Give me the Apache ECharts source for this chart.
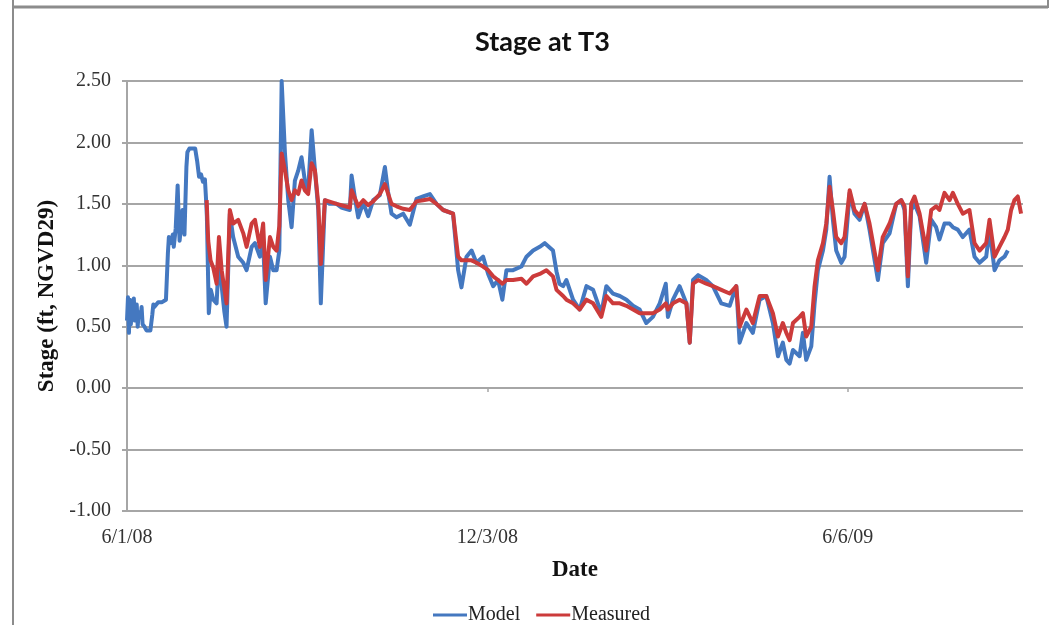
<!DOCTYPE html>
<html>
<head>
<meta charset="utf-8">
<script src="https://cdn.jsdelivr.net/npm/echarts@6/dist/echarts.min.js"></script>
<style>
html,body{margin:0;padding:0;background:#fff;}
#chart{width:1051px;height:625px;}
</style>
</head>
<body>
<div id="chart"></div>
<script>
// x values are days since 6/1/08
const START_DATE = Date.UTC(2008, 5, 1);
const xTickDays = [0, 185, 370];
const yTicks = [-1.0, -0.5, 0, 0.5, 1.0, 1.5, 2.0, 2.5];

const modelDays = [0,0.5,1,1.5,2,2.5,3,3.5,4,5,5.5,6,7,7.5,8,9,10,11,12,13,13.5,14,16,18,20,21,21.5,22.5,23.5,24,25,26,26.5,27,28,28.5,29.5,30.5,31,32,35,36,37,38,39,40,40.5,41,42,43,44.3,46,47.2,48.6,50,51.1,52.8,54.5,57.1,59.7,61.4,64,65.7,68.2,69.9,71.2,73.4,75.1,76.8,78.2,79.4,81.1,82.8,84.5,86.2,87.9,89.6,91.3,93,94.8,96.5,98.2,99.5,101.6,104,107.6,110,114.4,115.3,117,118.7,121.3,123.8,126.4,129.8,132.4,134,135.8,138.4,141.8,145.2,148.6,152,155.5,158.9,162.3,167.4,170,171.7,174.3,176.9,179.4,182.8,185.4,188,190.5,192.7,194.8,198.2,202.5,205.1,208.5,211.9,214.5,218.7,220.5,222,223.9,225.6,229,232.4,235.9,239.3,243.5,246.1,249.5,253,256.4,259.8,263.2,266.6,270,273.5,276.6,277.7,280.3,283.7,287.2,288.9,290.6,293.2,297.4,300.8,305.1,309.4,312.8,314.5,318,321.3,324.8,328.2,331.6,334.2,336.7,338.5,340.2,341.9,345.3,347,348.7,351.3,353,354.7,357.3,359,360.7,362.4,364.1,366.7,368.4,371,373.5,376.1,378.7,381.2,385.5,388,391.5,394.9,397.5,399.2,400.9,402.6,404.3,406.9,410.3,412.9,415.4,417.1,419.7,422.3,424,426.5,429.1,432.5,435.1,437.7,441.1,442.8,445.4,447.9,450.5,452.2];
const modelValues = [0.55,0.74,0.45,0.72,0.52,0.70,0.58,0.73,0.55,0.68,0.50,0.62,0.58,0.66,0.52,0.50,0.47,0.46,0.47,0.60,0.68,0.66,0.70,0.70,0.72,1.10,1.23,1.18,1.25,1.15,1.30,1.65,1.40,1.20,1.35,1.45,1.25,1.80,1.92,1.95,1.95,1.85,1.72,1.74,1.68,1.70,1.56,1.40,0.61,0.80,0.72,0.69,1.07,0.83,0.62,0.50,1.42,1.23,1.07,1.02,0.96,1.15,1.18,1.07,1.18,0.69,1.07,0.96,0.96,1.12,2.50,1.91,1.53,1.31,1.69,1.77,1.88,1.69,1.61,2.10,1.77,1.45,0.69,1.53,1.50,1.50,1.47,1.45,1.73,1.55,1.39,1.51,1.40,1.53,1.57,1.80,1.60,1.42,1.39,1.42,1.33,1.54,1.56,1.58,1.50,1.45,1.42,0.96,0.82,1.07,1.12,1.02,1.07,0.93,0.83,0.88,0.72,0.96,0.96,0.99,1.07,1.12,1.15,1.18,1.12,0.95,0.85,0.83,0.88,0.72,0.64,0.83,0.80,0.61,0.83,0.77,0.75,0.72,0.67,0.64,0.53,0.58,0.69,0.85,0.58,0.72,0.83,0.69,0.37,0.88,0.92,0.88,0.83,0.69,0.67,0.83,0.37,0.53,0.45,0.72,0.75,0.53,0.26,0.37,0.23,0.20,0.31,0.26,0.45,0.23,0.34,0.69,0.96,1.12,1.29,1.72,1.37,1.12,1.02,1.07,1.59,1.42,1.37,1.50,1.29,0.88,1.18,1.26,1.50,1.53,1.45,0.83,1.45,1.50,1.40,1.02,1.37,1.31,1.21,1.34,1.34,1.31,1.29,1.23,1.29,1.07,1.02,1.07,1.29,0.96,1.04,1.07,1.12];

const measuredDays = [40.9,41.7,42.9,44.3,46,47.2,48.6,51.1,52.8,54.5,57.1,59.7,61.4,64,65.7,68.2,69.9,71.2,73.4,75.1,76.8,78.2,79.4,81.1,82.8,84.5,86.2,87.9,89.6,91.3,93,94.8,96.5,98.2,99.5,101.6,107.6,114.4,115.3,118.7,121.3,123.8,126.4,129.8,132.4,135.8,138.4,141.8,145.2,148.6,152,155.5,158.9,162.3,167.4,170,171.7,174.3,176.9,179.4,182.8,185.4,188,190.5,192.7,194.8,198.2,202.5,205.1,208.5,211.9,215.3,218.7,220.5,223.9,225.6,229,232.4,235.9,239.3,243.5,246.1,249.5,253,256.4,259.8,263.2,266.6,270,273.5,276.6,277.7,280.3,283.7,287.2,288.9,290.6,293.2,297.4,300.8,305.1,309.4,312.8,314.5,318,321.3,324.8,328.2,331.6,334.2,336.7,338.5,340.2,341.9,345.3,347,348.7,351.3,353,354.7,357.3,359,360.7,362.4,364.1,366.7,368.4,371,373.5,376.1,378.7,381.2,385.5,388,391.5,394.9,397.5,399.2,400.9,402.6,404.3,406.9,410.3,412.9,415.4,417.1,419.7,422.3,424,426.5,429.1,432.5,435.1,437.7,441.1,442.8,445.4,447.9,450.5,452.2,453.9,455.6,457.3,459];
const measuredValues = [1.53,1.20,1.04,0.98,0.85,1.23,0.96,0.69,1.45,1.34,1.37,1.26,1.15,1.34,1.37,1.15,1.34,0.88,1.23,1.15,1.12,1.32,1.91,1.77,1.61,1.53,1.61,1.58,1.69,1.61,1.58,1.83,1.77,1.50,1.01,1.53,1.50,1.47,1.61,1.48,1.53,1.49,1.52,1.58,1.66,1.50,1.48,1.46,1.45,1.52,1.53,1.54,1.50,1.45,1.42,1.07,1.04,1.04,1.04,1.02,0.99,0.96,0.91,0.88,0.85,0.88,0.88,0.89,0.85,0.91,0.93,0.96,0.91,0.80,0.75,0.72,0.69,0.64,0.72,0.69,0.58,0.75,0.69,0.69,0.67,0.64,0.61,0.61,0.61,0.64,0.69,0.64,0.69,0.72,0.69,0.37,0.85,0.88,0.85,0.83,0.80,0.77,0.83,0.50,0.64,0.53,0.75,0.75,0.61,0.42,0.53,0.45,0.39,0.53,0.58,0.61,0.42,0.50,0.83,1.04,1.18,1.34,1.64,1.45,1.23,1.18,1.23,1.61,1.45,1.40,1.50,1.34,0.96,1.23,1.34,1.50,1.53,1.48,0.91,1.50,1.56,1.42,1.12,1.45,1.48,1.45,1.59,1.53,1.59,1.50,1.42,1.45,1.18,1.12,1.18,1.37,1.07,1.15,1.23,1.29,1.45,1.53,1.56,1.42];

function pairs(xs, ys) { return xs.map((x, i) => [x, ys[i]]); }
function dayLabel(d) {
  const dt = new Date(START_DATE + d * 86400000);
  return (dt.getUTCMonth() + 1) + '/' + dt.getUTCDate() + '/' + String(dt.getUTCFullYear()).slice(2);
}

const chart = echarts.init(document.getElementById('chart'), null, {renderer: 'canvas'});
const serif = '"Liberation Serif", "Times New Roman", serif';
chart.setOption({
  backgroundColor: '#ffffff',
  animation: false,
  title: {
    text: 'Stage at T3',
    left: 470, top: 24,
    textStyle: {fontFamily: 'Lato, "Liberation Sans", sans-serif', fontWeight: 'bold', fontSize: 27, color: '#111'}
  },
  grid: {left: 127, right: 28, top: 81, bottom: 114, containLabel: false},
  legend: {
    data: ['Model', 'Measured'],
    left: 428, top: 600,
    icon: 'rect', itemWidth: 34, itemHeight: 3, itemGap: 16,
    textStyle: {fontFamily: serif, fontSize: 20, color: '#222', padding: [0, 0, 0, -4]}
  },
  xAxis: [{
    type: 'value', min: 0, max: 460, interval: 185,
    name: 'Date', nameLocation: 'middle', nameGap: 48,
    nameTextStyle: {fontFamily: serif, fontWeight: 'bold', fontSize: 23, color: '#111'},
    axisLine: {show: false},
    axisTick: {show: false},
    splitLine: {show: false},
    axisLabel: {fontFamily: serif, fontSize: 20, color: '#333', margin: 17, showMaxLabel: false,
      formatter: v => xTickDays.indexOf(v) >= 0 ? dayLabel(v) : ''}
  }, {
    type: 'value', min: 0, max: 460, interval: 185,
    position: 'bottom', offset: -124,
    axisLine: {show: false},
    axisTick: {show: true, length: 5, customValues: xTickDays.slice(1), lineStyle: {color: '#a6a6a6', width: 1.5}},
    axisLabel: {show: false},
    splitLine: {show: false}
  }],
  yAxis: {
    type: 'value', min: -1, max: 2.5, interval: 0.5,
    name: 'Stage (ft, NGVD29)', nameLocation: 'middle', nameGap: 64,
    nameTextStyle: {fontFamily: serif, fontWeight: 'bold', fontSize: 23, color: '#111'},
    axisLine: {show: true, lineStyle: {color: '#a6a6a6', width: 2}},
    axisTick: {show: true, length: 5, lineStyle: {color: '#a6a6a6', width: 2}},
    splitLine: {show: true, lineStyle: {color: '#a6a6a6', width: 2}},
    axisLabel: {fontFamily: serif, fontSize: 20, color: '#333', margin: 16,
      formatter: v => v.toFixed(2)}
  },
  series: [{
    name: 'Model', type: 'line', xAxisIndex: 0,
    data: pairs(modelDays, modelValues),
    showSymbol: false, symbol: 'none',
    lineStyle: {color: '#4478c0', width: 4, join: 'round'},
    itemStyle: {color: '#4478c0'}
  }, {
    name: 'Measured', type: 'line', xAxisIndex: 0,
    data: pairs(measuredDays, measuredValues),
    showSymbol: false, symbol: 'none',
    lineStyle: {color: '#cc3b3b', width: 4, join: 'round'},
    itemStyle: {color: '#cc3b3b'}
  }],
  graphic: [
    {type: 'line', shape: {x1: 13, y1: 7, x2: 1048, y2: 7}, style: {stroke: '#8c8c8c', lineWidth: 3}},
    {type: 'line', shape: {x1: 1048, y1: 0, x2: 1048, y2: 8}, style: {stroke: '#8c8c8c', lineWidth: 2}},
    {type: 'line', shape: {x1: 13, y1: 0, x2: 13, y2: 625}, style: {stroke: '#8c8c8c', lineWidth: 2}}
  ]
});
</script>
</body>
</html>
